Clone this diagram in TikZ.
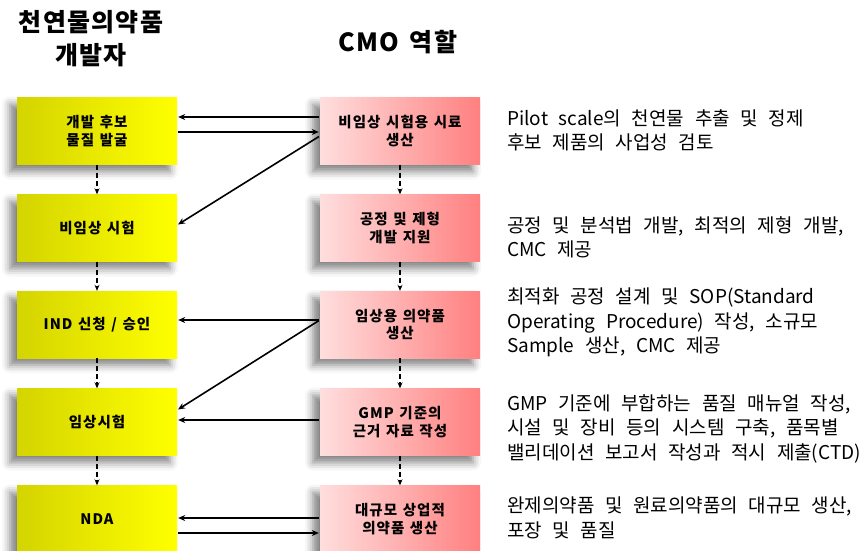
\documentclass[tikz,border=0pt]{standalone}
\usepackage{fontspec}
\setmainfont{Noto Sans CJK KR}
\newfontfamily\descfont[WordSpace=2.5]{Noto Sans CJK KR}
\newfontfamily\headfont[LetterSpace=5,WordSpace=1.5]{Noto Sans CJK KR}
\newfontfamily\boxfont[LetterSpace=7,WordSpace=1.3]{Noto Sans CJK KR}
\usetikzlibrary{arrows.meta,shadows.blur}
\definecolor{yl}{RGB}{212,212,0}
\definecolor{yr}{RGB}{255,255,0}
\definecolor{pl}{RGB}{255,222,222}
\definecolor{pr}{RGB}{255,128,128}
\begin{document}
\begin{tikzpicture}[x=1pt,y=-1pt,
  box/.style={minimum width=160pt, minimum height=67pt, inner sep=0pt, align=center,
    font=\boxfont\fontsize{14.5}{17.5}\selectfont\bfseries,
    blur shadow={shadow xshift=-7pt, shadow yshift=-7pt, shadow blur radius=8pt, shadow opacity=50}},
  ybox/.style={box, left color=yl, right color=yr},
  pbox/.style={box, left color=pl, right color=pr},
  desc/.style={anchor=west, inner sep=0pt, align=left, font=\descfont\fontsize{19}{24.5}\selectfont},
  head/.style={inner sep=0pt, align=center, font=\headfont\fontsize{25}{33}\selectfont\bfseries},
  arr/.style={-{Stealth[length=7pt,width=6pt]}, line width=1.6pt, shorten >=1pt, shorten <=1pt},
  darr/.style={-{Stealth[length=6pt,width=5pt]}, line width=1.3pt, dash pattern=on 5pt off 3pt}
]
\useasboundingbox (0,0) rectangle (865,550);

\node[head] (h1) at (91,38.5) {천연물의약품\\개발자};
\node[head] (h2) at (398,42) {CMO 역할};

\node[ybox] (y1) at (97,131) {개발 후보\\물질 발굴};
\node[ybox] (y2) at (97,228) {비임상 시험};
\node[ybox] (y3) at (97,324.5) {IND 신청 / 승인};
\node[ybox] (y4) at (97,422) {임상시험};
\node[ybox] (y5) at (97,519) {NDA};

\node[pbox] (p1) at (400,131) {비임상 시험용 시료\\생산};
\node[pbox] (p2) at (400,228) {공정 및 제형\\개발 지원};
\node[pbox] (p3) at (400,324.5) {임상용 의약품\\생산};
\node[pbox] (p4) at (400,422) {GMP 기준의\\근거 자료 작성};
\node[pbox] (p5) at (400,519) {대규모 상업적\\의약품 생산};

\node[desc] (t1) at (507,130.5) {Pilot scale의 천연물 추출 및 정제\\후보 제품의 사업성 검토};
\node[desc] (t2) at (507,237.5) {공정 및 분석법 개발, 최적의 제형 개발,\\CMC 제공};
\node[desc] (t3) at (507,322.5) {최적화 공정 설계 및 SOP(Standard\\Operating Procedure) 작성, 소규모\\Sample 생산, CMC 제공};
\node[desc] (t4) at (507,428.5) {GMP 기준에 부합하는 품질 매뉴얼 작성,\\시설 및 장비 등의 시스템 구축, 품목별\\밸리데이션 보고서 작성과 적시 제출(CTD)};
\node[desc] (t5) at (507,518) {완제의약품 및 원료의약품의 대규모 생산,\\포장 및 품질};

\foreach \a/\b in {y1/y2,y2/y3,y3/y4,y4/y5,p1/p2,p2/p3,p3/p4,p4/p5}
  \draw[darr] (\a.south) -- (\b.north);

\draw[arr] ([yshift=14pt]p1.west) -- ([yshift=14pt]y1.east);
\draw[arr] ([yshift=-1pt]y1.east) -- ([yshift=-1pt]p1.west);
\draw[arr] ([yshift=-5pt]p1.west) -- ([yshift=3pt]y2.east);
\draw[arr] ([yshift=4.5pt]p3.west) -- ([yshift=4.5pt]y3.east);
\draw[arr] ([yshift=4.5pt]p3.west) -- ([yshift=12pt]y4.east);
\draw[arr] ([yshift=2pt]p4.west) -- ([yshift=2pt]y4.east);
\draw[arr] ([yshift=1pt]p5.west) -- ([yshift=1pt]y5.east);
\draw[arr] ([yshift=-14pt]y5.east) -- ([yshift=-14pt]p5.west);
\end{tikzpicture}
\end{document}
